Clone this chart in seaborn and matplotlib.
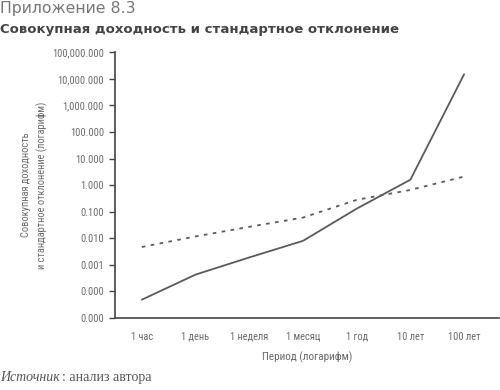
import matplotlib
matplotlib.use("Agg")
import matplotlib.pyplot as plt
import matplotlib.ticker as mticker
import seaborn as sns
import pandas as pd
from matplotlib import font_manager

periods = ["1 час", "1 день", "1 неделя", "1 месяц", "1 год", "10 лет", "100 лет"]
total_return = [4.9e-5, 4.3e-4, 1.9e-3, 8.0e-3, 0.13, 1.6, 14800]
std_dev = [0.0047, 0.0117, 0.027, 0.06, 0.28, 0.66, 2.1]
y_ticks = [1e-5, 1e-4, 1e-3, 1e-2, 1e-1, 1, 10, 100, 1000, 10000, 100000]

sns.set_theme(style="white")
names = {f.name for f in font_manager.fontManager.ttflist}
narrow = None
for cand in ["Roboto Condensed", "Liberation Sans Narrow", "Open Sans Condensed",
             "DejaVu Sans Condensed"]:
    if cand in names:
        narrow = cand
        break
plt.rcParams["font.family"] = [narrow or "DejaVu Sans", "DejaVu Sans"]
if narrow is None:
    plt.rcParams["font.stretch"] = "condensed"

df = pd.DataFrame({"period": periods, "ret": total_return, "std": std_dev})
df["x"] = range(len(periods))

fig = plt.figure(figsize=(5, 3.9), dpi=100)
ax = fig.add_axes([0.23, 0.1846, 0.768, 0.6814])

line_col = "#5a5a5a"
sns.lineplot(data=df, x="x", y="ret", ax=ax, color=line_col, lw=1.3)
sns.lineplot(data=df, x="x", y="std", ax=ax, color=line_col, lw=1.3,
             linestyle=(0, (2, 3)))

ax.set_yscale("log")
ax.set_ylim(1e-5, 1e5)
ax.set_xlim(-0.5, 6.65)
ax.yaxis.set_major_locator(mticker.FixedLocator(y_ticks))
ax.yaxis.set_minor_locator(mticker.NullLocator())
ax.yaxis.set_major_formatter(mticker.FuncFormatter(lambda v, p: f"{v:,.3f}"))
ax.set_xticks(range(len(periods)))
ax.set_xticklabels(periods)

txt = "#6a6a6a"
ax.tick_params(axis="y", length=4, width=1, color="#444444", labelsize=7.5,
               labelcolor=txt, left=True, pad=4)
ax.tick_params(axis="x", length=0, labelsize=7.5, labelcolor=txt, pad=10)
for s in ["top", "right"]:
    ax.spines[s].set_visible(False)
for s in ["left", "bottom"]:
    ax.spines[s].set_color("#444444")
    ax.spines[s].set_linewidth(1.2)

ax.set_xlabel("Период (логарифм)", fontsize=8, color=txt, labelpad=7)
ax.set_ylabel("Совокупная доходность\nи стандартное отклонение (логарифм)",
              fontsize=7.5, color=txt, labelpad=3, linespacing=1.55)

fig.text(0.0, 0.997, "Приложение 8.3", fontsize=11.3, color="#777777",
         va="top", ha="left", family=["DejaVu Sans"], fontstretch="normal")
fig.text(0.0, 0.94, "Совокупная доходность и стандартное отклонение", fontsize=9.5,
         color="#444444", va="top", ha="left", fontweight="bold",
         family=["DejaVu Sans"], fontstretch="normal")
fig.text(0.0, 0.015, "Источник", fontsize=10, color="#555555", style="italic",
         family=["Liberation Serif", "DejaVu Serif"], va="bottom", ha="left",
         fontstretch="normal")
fig.text(0.124, 0.015, ": анализ автора", fontsize=10, color="#555555",
         family=["Liberation Serif", "DejaVu Serif"], va="bottom", ha="left",
         fontstretch="normal")

fig.savefig("out.png", dpi=100)
